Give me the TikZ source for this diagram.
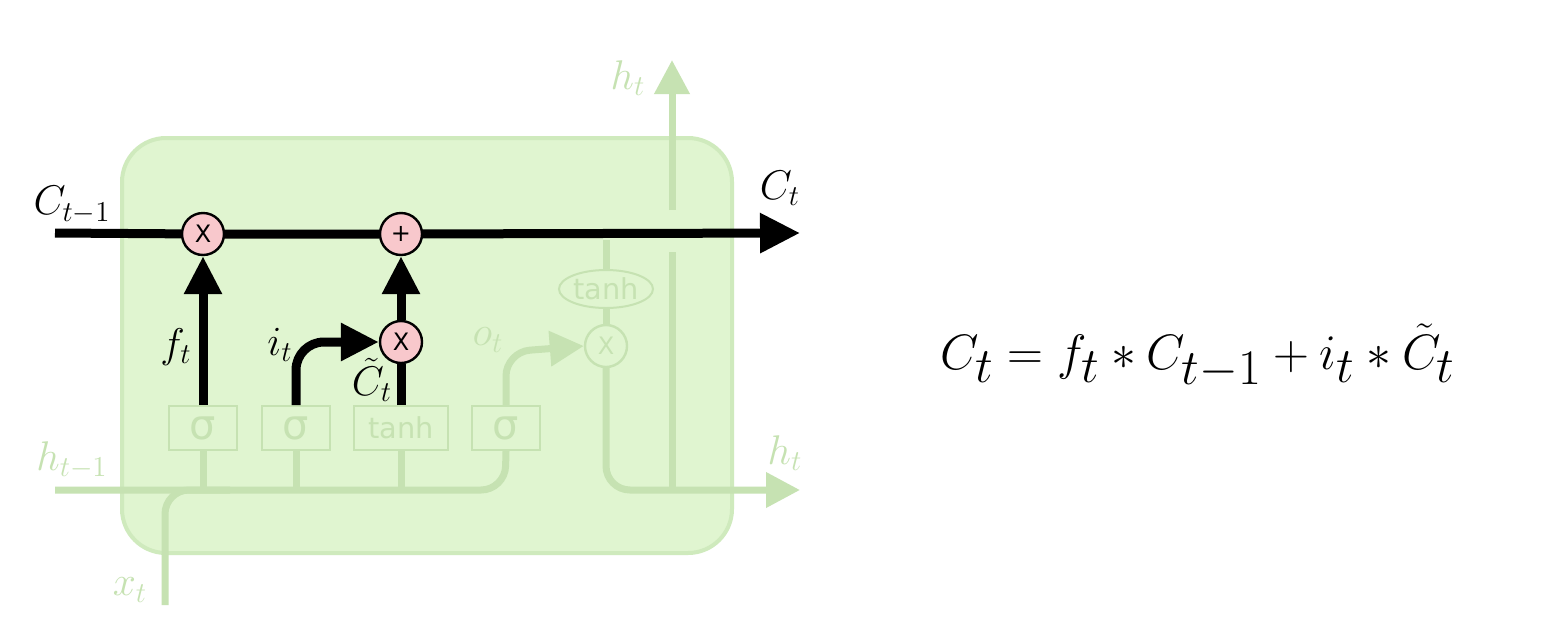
\documentclass[tikz,border=0pt]{standalone}
\usepackage{fontspec}
\newfontfamily\dvs{DejaVu Sans}
\usetikzlibrary{arrows.meta,shapes.geometric}
\definecolor{cellfill}{HTML}{E0F5D0}
\definecolor{celledge}{HTML}{CFEABD}
\definecolor{fade}{HTML}{C6E2B2}
\definecolor{opfill}{HTML}{F8C8CC}
\begin{document}
\begin{tikzpicture}[x=0.5pt,y=-0.5pt,
  blk/.style={line width=4.5pt,draw=black},
  faded/.style={line width=3.5pt,draw=fade,rounded corners=12pt},
  bigtip/.style={-{Triangle[length=20pt,width=19pt]}},
  midtip/.style={-{Triangle[length=19pt,width=18pt]}},
  fadetip/.style={-{Triangle[length=17pt,width=17pt,fill=fade]}},
  op/.style={circle,draw=black,line width=1.2pt,fill=opfill,minimum size=21pt,inner sep=0pt,font=\dvs\large},
  fop/.style={circle,draw=fade,line width=1.2pt,fill=cellfill,minimum size=21pt,inner sep=0pt,font=\dvs\large,text=fade},
  gate/.style={rectangle,draw=fade,line width=1pt,fill=cellfill,text=fade,minimum height=22pt,inner sep=0pt,font=\dvs\Large},
  sig/.style={gate,minimum width=34pt,font=\dvs\huge},
  lab/.style={font=\fontsize{20}{24}\selectfont},
  flab/.style={font=\fontsize{20}{24}\selectfont,text=fade}]
\path[use as bounding box] (0,0) rectangle (1566,627);
\fill[white] (0,0) rectangle (1566,627);
\draw[fill=cellfill,draw=celledge,line width=2pt,rounded corners=22pt] (122,138) rectangle (732,553);
% gates
\node[sig] (g1) at (203,428) {σ};
\node[sig] (g2) at (296,428) {σ};
\node[gate,minimum width=47pt] (g3) at (401,428) {tanh};
\node[sig] (g4) at (506,428) {σ};
\node[ellipse,draw=fade,line width=1pt,fill=cellfill,text=fade,minimum width=47pt,minimum height=19pt,inner sep=0pt,font=\dvs\Large] (th) at (606,289) {tanh};
\node[fop] (m3) at (606,346) {X};
\coordinate (hin) at (55,490);
\coordinate (xin) at (165,605);
\coordinate (hout) at (800,490);
\coordinate (hup) at (672,60);
\coordinate (cin) at (55,233);
\coordinate (cout) at (800,233);
% faded lines
\draw[faded] (hin) -- (505,490) -- (g4.south);
\draw[faded] (xin) -- (165,490) -- (230,490);
\draw[faded] (g1.south) -- (203,490);
\draw[faded] (g2.south) -- (296,490);
\draw[faded] (g3.south) -- (401,490);
\draw[faded,fadetip] (g4.north) -- (506,352) -- (m3.west);
\draw[faded] (606,240) -- (th.north);
\draw[faded] (th.south) -- (m3.north);
\draw[faded,fadetip] (m3.south) -- (606,490) -- (hout);
\draw[faded] (672,490) -- (672,252);
\draw[faded,fadetip] (672,210) -- (hup);
% cell state
\node[op] (m1) at (203,234) {X};
\node[op] (p1) at (401,234) {+};
\node[op] (m2) at (401,342) {X};
\draw[blk,bigtip] (cin) -- (m1) -- (p1) -- (cout);
\draw[blk,midtip] (g1.north) -- (m1.south);
\draw[blk,midtip] (m2.north) -- (p1.south);
\draw[blk] (g3.north) -- (m2.south);
\draw[blk,midtip,rounded corners=14pt] (g2.north) -- (296,342) -- (m2.west);
% labels
\node[lab] at (72,205) {$C_{t-1}$};
\node[lab] at (780,188) {$C_t$};
\node[lab] at (176,347) {$f_t$};
\node[lab] at (280,345) {$i_t$};
\node[lab] at (372,380) {$\tilde{C}_t$};
\node[flab] at (488,340) {$o_t$};
\node[flab] at (628,78) {$h_t$};
\node[flab] at (785,453) {$h_t$};
\node[flab] at (72,460) {$h_{t-1}$};
\node[flab] at (130,590) {$x_t$};
\node[font=\fontsize{36}{42}\selectfont] (eq) at (1198,356) {$C_t = f_t * C_{t-1} + i_t * \tilde{C}_t$};
\end{tikzpicture}
\end{document}
